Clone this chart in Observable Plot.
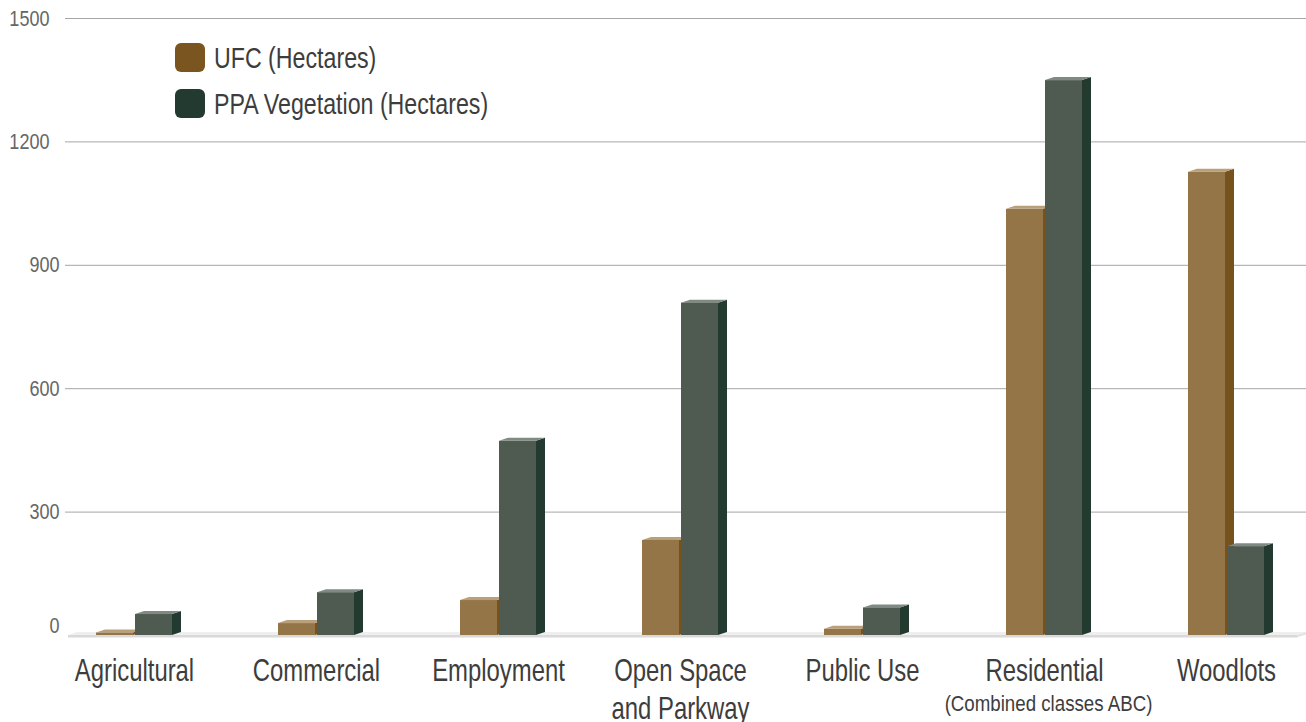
<!DOCTYPE html>
<html><head><meta charset="utf-8">
<script src="https://cdn.jsdelivr.net/npm/d3@7"></script>
<script src="https://cdn.jsdelivr.net/npm/@observablehq/plot@0.6"></script>
<style>
body{margin:0;background:#fff;}
#chart svg{display:block;}
</style>
</head><body><div id="chart"></div>
<script>
const categories = ["Agricultural","Commercial","Employment","Open Space\nand Parkway","Public Use","Residential","Woodlots"];
const subLabels = ["","","","","","(Combined classes ABC)",""];
const seriesNames = ["UFC (Hectares)","PPA Vegetation (Hectares)"];
const ufc = [6, 29, 85, 231, 15, 1036, 1126];
const ppa = [51, 104, 472, 808, 67, 1349, 216];
const yTicks = [0, 300, 600, 900, 1200, 1500];

const legendColors = ["#7a5520", "#233a30"];
const frontColors = ["#937548", "#4f5a50"];
const sideColors = ["#76521d", "#233a30"];
const topColors = ["#b9a07a", "#7f8a82"];
const FONT = "'Liberation Sans', Arial, Helvetica, sans-serif";

const rows = [];
categories.forEach((c, i) => {
  rows.push({cat: c, series: 0, value: ufc[i]});
  rows.push({cat: c, series: 1, value: ppa[i]});
});

const BAR_W = 37, GAP = 1, DX = 9, DY = 3;

// horizontally condense text glyphs around their anchor point
function condense(sx) {
  return (index, scales, values, dims, context, next) => {
    const g = next(index, scales, values, dims, context);
    d3.select(g).selectAll("text").attr("transform", function() {
      return (this.getAttribute("transform") || "") + ` scale(${sx},1)`;
    });
    return g;
  };
}

function floorRender(index, scales, values, dims) {
  const g = d3.create("svg:g");
  const y0 = scales.y(0);
  const xl = dims.marginLeft + 3, xr = dims.width - dims.marginRight - DX;
  const pts = a => a.map(p => p.join(",")).join(" ");
  g.append("polygon").attr("points", pts([[xl, y0], [xr, y0], [xr + DX, y0 - DY], [xl + DX, y0 - DY]])).attr("fill", "#efefef");
  g.append("rect").attr("x", xl).attr("y", y0).attr("width", xr - xl).attr("height", 2.5).attr("fill", "#d9d9d9");
  g.append("polygon").attr("points", pts([[xr, y0], [xr + DX, y0 - DY], [xr + DX, y0 - DY + 2.5], [xr, y0 + 2.5]])).attr("fill", "#e4e4e4");
  return g.node();
}

function barsRender(index, scales, values, dims) {
  const g = d3.create("svg:g");
  const bw = scales.x.bandwidth ? scales.x.bandwidth() : 182.5;
  const pts = a => a.map(p => p.join(",")).join(" ");
  for (const i of index) {
    const s = rows[i].series;
    const cx = values.x[i] + bw / 2;
    const x0 = s === 0 ? cx - GAP - BAR_W : cx + GAP;
    const x1 = x0 + BAR_W;
    const yb = values.y1[i], yt = values.y2[i];
    g.append("polygon").attr("points", pts([[x1, yt], [x1 + DX, yt - DY], [x1 + DX, yb - DY], [x1, yb]])).attr("fill", sideColors[s]);
    g.append("polygon").attr("points", pts([[x0, yt], [x0 + DX, yt - DY], [x1 + DX, yt - DY], [x1, yt]])).attr("fill", topColors[s]);
    g.append("rect").attr("x", x0).attr("y", yt).attr("width", BAR_W).attr("height", Math.max(0, yb - yt)).attr("fill", frontColors[s]);
  }
  return g.node();
}

const chart = Plot.plot({
  width: 1306,
  height: 722,
  marginTop: 18,
  marginBottom: 87,
  marginLeft: 65,
  marginRight: 0,
  style: {fontFamily: FONT, background: "#fff"},
  x: {type: "band", domain: categories, range: [40.85, 1318.35], padding: 0, axis: null},
  y: {domain: [0, 1500], axis: null},
  marks: [
    Plot.ruleY(yTicks.filter(t => t > 0), {stroke: "#a6a6a6", strokeWidth: 1}),
    Plot.ruleY([0], {render: floorRender}),
    Plot.text(yTicks.filter(t => t >= 1000), {y: d => d, text: d => String(d), frameAnchor: "left", dx: -16, textAnchor: "end", fontSize: 22, fill: "#666", render: condense(0.82)}),
    Plot.text(yTicks.filter(t => t > 0 && t < 1000), {y: d => d, text: d => String(d), frameAnchor: "left", dx: -6, textAnchor: "end", fontSize: 22, fill: "#666", render: condense(0.82)}),
    Plot.text(yTicks.filter(t => t === 0), {y: d => d, text: d => String(d), frameAnchor: "left", dx: -6, dy: -10, textAnchor: "end", fontSize: 22, fill: "#666", render: condense(0.82)}),
    Plot.barY(rows, {x: "cat", y1: 0, y2: "value", render: barsRender}),
    Plot.text(categories, {x: d => d, y: 0, text: d => d, lineAnchor: "top", dy: 19, fontSize: 31, lineHeight: 1.22, fill: "#3d3d3d", render: condense(0.77)}),
    Plot.text(categories.map((c, i) => ({c, s: subLabels[i]})).filter(d => d.s), {x: "c", y: 0, text: "s", lineAnchor: "top", dy: 60, dx: 4, fontSize: 22, fill: "#3d3d3d", render: condense(0.85)})
  ]
});

const svg = d3.select(chart);
const lg = svg.append("g").attr("font-family", FONT);
seriesNames.forEach((n, i) => {
  lg.append("rect").attr("x", 175).attr("y", 43 + 46 * i).attr("width", 30).attr("height", 29).attr("rx", 6).attr("fill", legendColors[i]);
  lg.append("text").attr("transform", `translate(214,${68 + 46 * i}) scale(0.8,1)`)
    .attr("text-anchor", "start").attr("font-size", 29).attr("fill", "#3d3d3d").text(n);
});

document.getElementById("chart").appendChild(chart);
</script>
</body></html>
